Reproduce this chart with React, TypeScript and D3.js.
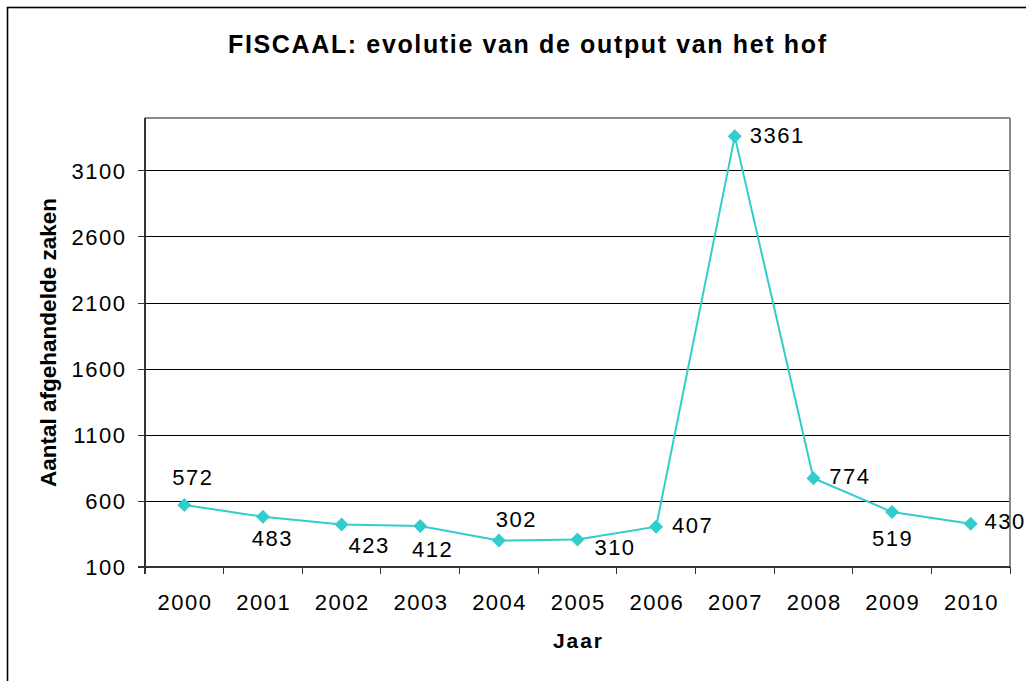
import React from 'react';
import * as d3 from 'd3';

const years = ['2000', '2001', '2002', '2003', '2004', '2005', '2006', '2007', '2008', '2009', '2010'];
const values = [572, 483, 423, 412, 302, 310, 407, 3361, 774, 519, 430];
const yTicks = [100, 600, 1100, 1600, 2100, 2600, 3100];
const yDomain = [100, 3500];
const titleText = 'FISCAAL: evolutie van de output van het hof';
const yTitleText = 'Aantal afgehandelde zaken';
const xTitleText = 'Jaar';
// label offsets relative to the marker (dx, dy to baseline)
const labelOffsets: [number, number][] = [
  [9, -20], [10, 29], [28, 28], [13, 30], [18, -14], [38, 15], [37, 6], [43, 6], [37, 5], [1, 34], [35, 5],
];

const FONT = '"Liberation Sans", Arial, Helvetica, sans-serif';
const LINE = '#33CCCC';
const FS = 22;
const LS = 1.5;

export default function App() {
  const left = 145, right = 1010, top = 118, bottom = 567.3;
  const x = d3.scaleBand<string>().domain(years).range([left, right]);
  const y = d3.scaleLinear().domain(yDomain).range([bottom, top]);
  const cx = (yr: string) => (x(yr) as number) + x.bandwidth() / 2;
  const line = d3.line<number>().x((_, i) => cx(years[i])).y((v) => y(v));
  const diamond = (px: number, py: number, r = 7) =>
    `M${px},${py - r}L${px + r},${py}L${px},${py + r}L${px - r},${py}Z`;
  const boundaries = years.map((yr) => x(yr) as number).concat([right]);

  return (
    <svg width={1026} height={681} style={{ position: 'absolute', left: 0, top: 0, background: '#fff' }} fontFamily={FONT}>
      <rect x={0} y={0} width={1026} height={681} fill="#fff" />
      <rect x={7.5} y={7.5} width={1100} height={800} fill="none" stroke="#000" strokeWidth={1.6} />
      <text x={527} y={53} fontSize={25} fontWeight="bold" textAnchor="middle" textLength={598} lengthAdjust="spacing">
        {titleText}
      </text>
      {/* gridlines */}
      <g shapeRendering="crispEdges">
        {yTicks.filter((t) => t !== yDomain[0]).map((t) => (
          <line key={t} x1={left} x2={right} y1={y(t)} y2={y(t)} stroke="#000" strokeWidth={1} />
        ))}
        {/* plot frame top/right */}
        <line x1={left} x2={right} y1={top} y2={top} stroke="#8a8a8a" strokeWidth={2} />
        <line x1={right} x2={right} y1={top} y2={bottom} stroke="#8a8a8a" strokeWidth={2} />
        {/* axes */}
        <line x1={left} x2={left} y1={top} y2={bottom + 7} stroke="#333" strokeWidth={2} />
        <line x1={left - 7} x2={right} y1={bottom} y2={bottom} stroke="#333" strokeWidth={2} />
        {yTicks.map((t) => (
          <line key={t} x1={left - 7} x2={left} y1={y(t)} y2={y(t)} stroke="#333" strokeWidth={1} />
        ))}
        {boundaries.map((b, i) => (
          <line key={i} x1={b} x2={b} y1={bottom} y2={bottom + 7} stroke="#333" strokeWidth={1} />
        ))}
      </g>
      {yTicks.map((t) => (
        <text key={t} x={125 + LS} y={y(t) + 7.8} fontSize={FS} textAnchor="end" letterSpacing={LS} fill="#000">
          {t}
        </text>
      ))}
      {years.map((yr) => (
        <text key={yr} x={cx(yr) + LS / 2} y={609.5} fontSize={FS} textAnchor="middle" letterSpacing={LS} fill="#000">
          {yr}
        </text>
      ))}
      <text
        transform={`translate(56,342.5) rotate(-90)`}
        fontSize={22.5}
        fontWeight="bold"
        textAnchor="middle"
        textLength={289}
        lengthAdjust="spacing"
      >
        {yTitleText}
      </text>
      <text x={577.5} y={648.3} fontSize={21} fontWeight="bold" textAnchor="middle" textLength={49} lengthAdjust="spacing">
        {xTitleText}
      </text>
      {/* series */}
      <path d={line(values) || ''} fill="none" stroke={LINE} strokeWidth={2} />
      {values.map((v, i) => (
        <path key={i} d={diamond(cx(years[i]), y(v))} fill={LINE} />
      ))}
      {values.map((v, i) => (
        <text
          key={'l' + i}
          x={cx(years[i]) + labelOffsets[i][0] - 0.5}
          y={y(v) + labelOffsets[i][1] + 0.5}
          fontSize={FS}
          textAnchor="middle"
          letterSpacing={LS}
          fill="#000"
        >
          {v}
        </text>
      ))}
    </svg>
  );
}
